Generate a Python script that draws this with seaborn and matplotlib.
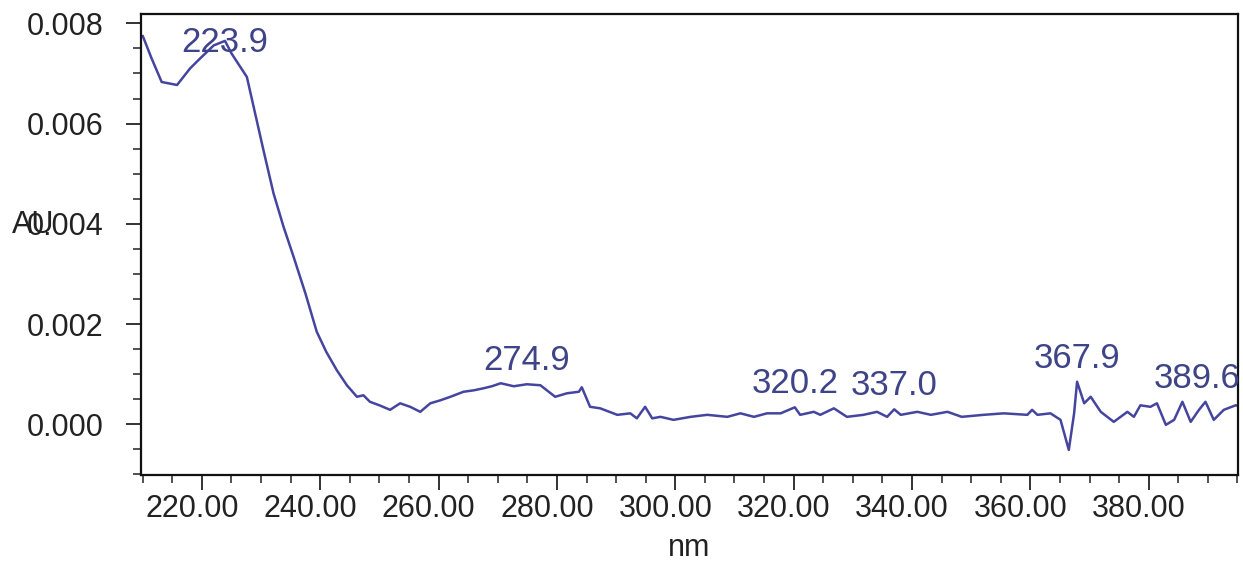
import matplotlib
matplotlib.use("Agg")
import numpy as np
import pandas as pd
import matplotlib.pyplot as plt
import seaborn as sns
from matplotlib import font_manager
from matplotlib.ticker import MultipleLocator, FormatStrFormatter
from matplotlib.transforms import ScaledTranslation

# Spectrum (wavelength nm, absorbance AU)
wavelength = [
    210.0, 211.5, 213.2, 215.8, 218.0, 219.7, 222.0, 223.9, 225.0, 227.6,
    230.4, 232.1, 233.8, 235.5, 237.5, 239.4, 241.0, 242.8, 244.5, 246.2,
    247.3, 248.4, 250.0, 251.8, 253.5, 255.2, 256.9, 258.6, 260.3, 262.0,
    264.2, 266.0, 267.6, 269.0, 270.5, 272.7, 274.9, 277.2, 279.7, 281.7,
    283.7, 284.2, 285.6, 287.3, 290.2, 292.4, 293.5, 294.9, 296.1, 297.5,
    299.7, 302.6, 305.4, 308.8, 311.0, 313.3, 315.5, 317.8, 320.2, 321.1,
    323.4, 324.5, 326.8, 329.0, 331.8, 334.1, 335.8, 337.0, 338.1, 340.9,
    343.2, 346.0, 348.4, 352.1, 355.5, 359.5, 360.3, 361.2, 363.4, 365.1,
    366.5, 367.4, 367.9, 369.1, 370.2, 371.9, 374.1, 376.4, 377.5, 378.6,
    380.3, 381.4, 382.9, 384.3, 385.7, 387.1, 388.5, 389.6, 391.0, 392.7,
    394.7, 395.5,
]
absorbance = [
    0.00775, 0.00730, 0.00683, 0.00677, 0.00710, 0.00730, 0.00756, 0.00765, 0.00740, 0.00693,
    0.00547, 0.00461, 0.00394, 0.00334, 0.00261, 0.00185, 0.00145, 0.00108, 0.00078, 0.00055,
    0.00058, 0.00045, 0.00038, 0.00029, 0.00042, 0.00035, 0.00025, 0.00042, 0.00048, 0.00055,
    0.00065, 0.00068, 0.00072, 0.00076, 0.00082, 0.00076, 0.00080, 0.00078, 0.00055, 0.00062,
    0.00065, 0.00074, 0.00035, 0.00032, 0.00019, 0.00022, 0.00012, 0.00035, 0.00012, 0.00015,
    0.00009, 0.00015, 0.00019, 0.00015, 0.00022, 0.00015, 0.00022, 0.00022, 0.00034, 0.00019,
    0.00025, 0.00019, 0.00032, 0.00015, 0.00019, 0.00025, 0.00015, 0.00030, 0.00019, 0.00025,
    0.00019, 0.00025, 0.00015, 0.00019, 0.00022, 0.00019, 0.00029, 0.00019, 0.00022, 0.00009,
    -0.00051, 0.00022, 0.00085, 0.00042, 0.00055, 0.00025, 0.00005, 0.00025, 0.00015, 0.00038,
    0.00035, 0.00042, -0.00001, 0.00009, 0.00045, 0.00005, 0.00029, 0.00045, 0.00009, 0.00029,
    0.00038, 0.00036,
]

peak_nm = [223.9, 274.9, 320.2, 337.0, 367.9, 389.6]
peak_abs = [0.00765, 0.00080, 0.00034, 0.00030, 0.00085, 0.00045]
peak_labels = ["223.9", "274.9", "320.2", "337.0", "367.9", "389.6"]

xticks = [220, 240, 260, 280, 300, 320, 340, 360, 380]
yticks = [0.000, 0.002, 0.004, 0.006, 0.008]

df = pd.DataFrame({"nm": wavelength, "AU": absorbance})

sns.set_theme(style="white")

family = "Liberation Sans"
try:
    font_manager.findfont("Liberation Sans Narrow", fallback_to_default=False)
    family = "Liberation Sans Narrow"
except Exception:
    pass
plt.rcParams["font.family"] = [family, "DejaVu Sans"]

fig = plt.figure(figsize=(12.43, 5.74), dpi=100)
ax = fig.add_axes([0.1134, 0.1725, 0.8826, 0.8031])

line_color = "#45459f"
sns.lineplot(data=df, x="nm", y="AU", ax=ax, color=line_color, linewidth=1.8, sort=True)

ax.set_xlim(209.7, 395.1)
ax.set_ylim(-0.00101, 0.008186)

ax.set_xticks(xticks)
ax.set_yticks(yticks)
ax.xaxis.set_minor_locator(MultipleLocator(5))
ax.yaxis.set_minor_locator(MultipleLocator(0.0005))
ax.xaxis.set_major_formatter(FormatStrFormatter("%.2f"))
ax.yaxis.set_major_formatter(FormatStrFormatter("%.3f"))

ax.tick_params(axis="both", which="major", direction="out", length=11, width=1.4,
               color="#333333", labelsize=22, labelcolor="#222222")
ax.tick_params(axis="both", which="minor", direction="out", length=6, width=1.2,
               color="#333333")
ax.tick_params(axis="x", which="both", bottom=True, pad=3)
ax.tick_params(axis="y", which="both", left=True, pad=16)

# x tick labels sit a little left of their ticks in the original
shift = ScaledTranslation(-10 / 100, 0, fig.dpi_scale_trans)
for lab in ax.get_xticklabels():
    lab.set_transform(lab.get_transform() + shift)

for side in ["top", "bottom", "left", "right"]:
    ax.spines[side].set_visible(True)
    ax.spines[side].set_color("#111111")
    ax.spines[side].set_linewidth(1.6)

ax.set_xlabel("nm", fontsize=22, color="#222222", va="center")
ax.set_ylabel("AU", fontsize=22, color="#222222", rotation=0, ha="center", va="center")
ax.xaxis.set_label_coords(0.5, -0.158)
ax.yaxis.set_label_coords(-0.0985, 0.542)

# peak annotations (offsets in points)
offsets = [(0, -8), (0, 10), (0, 10), (0, 10), (0, 10), (-6, 10)]
for nm, a, txt, (dx, dy) in zip(peak_nm, peak_abs, peak_labels, offsets):
    ax.annotate(txt, xy=(nm, a), xytext=(dx, dy), textcoords="offset points",
                ha="center", va="baseline", fontsize=25, color="#3f4488")

ax.grid(False)
fig.savefig("out.png", dpi=100)
